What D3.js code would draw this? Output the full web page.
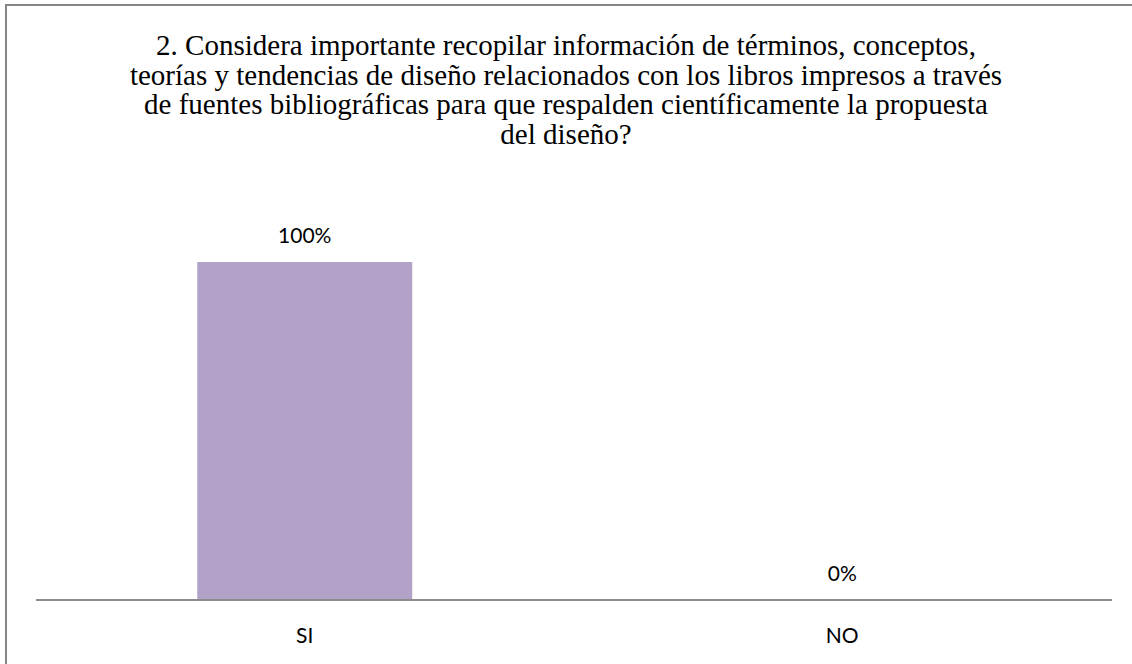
<!DOCTYPE html>
<html>
<head>
<meta charset="utf-8">
<script src="https://cdn.jsdelivr.net/npm/d3@7"></script>
<style>
html,body{margin:0;padding:0;background:#fff;}
svg{display:block;}
</style>
</head>
<body>
<svg id="chart" width="1132" height="664"></svg>
<script>
const categories = ["SI", "NO"];
const values = [1.0, 0.0];
const valueLabels = ["100%", "0%"];
const titleLines = [
  "2. Considera importante recopilar información de términos, conceptos,",
  "teorías y tendencias de diseño relacionados con los libros impresos a través",
  "de fuentes bibliográficas para que respalden científicamente la propuesta",
  "del diseño?"
];

const svg = d3.select("#chart");
const W = 1132, H = 664;

svg.append("rect").attr("x", 0).attr("y", 0).attr("width", W).attr("height", H).attr("fill", "#fff");
// outer chart border (extends past right/bottom edges as in reference)
svg.append("rect")
  .attr("x", 6).attr("y", 5)
  .attr("width", W + 20).attr("height", H + 20)
  .attr("fill", "none").attr("stroke", "#868686").attr("stroke-width", 2);

const x = d3.scaleBand().domain(categories).range([36, 1111]).paddingInner(0.6).paddingOuter(0.3);
const y = d3.scaleLinear().domain([0, 1]).range([600, 262]);

// title
const title = svg.append("text")
  .attr("font-family", "'Liberation Serif', 'Times New Roman', serif")
  .attr("font-size", 29)
  .attr("fill", "#000")
  .attr("text-anchor", "middle");
titleLines.forEach((t, i) => {
  title.append("tspan").attr("x", 566).attr("y", 55 + i * 29.5).text(t);
});

// bars
svg.selectAll("rect.bar").data(categories).enter().append("rect")
  .attr("class", "bar")
  .attr("x", d => x(d))
  .attr("width", x.bandwidth())
  .attr("y", (d, i) => y(values[i]))
  .attr("height", (d, i) => y(0) - y(values[i]))
  .attr("fill", "#b3a2c7");

// value labels
svg.selectAll("text.val").data(categories).enter().append("text")
  .attr("class", "val")
  .attr("x", d => x(d) + x.bandwidth() / 2)
  .attr("y", (d, i) => y(values[i]) - 19)
  .attr("text-anchor", "middle")
  .attr("font-family", "Lato, 'Open Sans', sans-serif")
  .attr("font-size", 21)
  .attr("fill", "#000")
  .text((d, i) => valueLabels[i]);

// x axis
const xAxis = d3.axisBottom(x).tickSize(0).tickPadding(0);
const gx = svg.append("g").attr("transform", "translate(0,600)").call(xAxis);
gx.select(".domain").remove();
gx.selectAll("text")
  .attr("dy", null)
  .attr("y", 43)
  .attr("font-family", "Lato, 'Open Sans', sans-serif")
  .attr("font-size", 21)
  .attr("fill", "#000");
svg.append("line")
  .attr("x1", 36).attr("x2", 1112)
  .attr("y1", y(0)).attr("y2", y(0))
  .attr("stroke", "#8c8c8c").attr("stroke-width", 2);
</script>
</body>
</html>
